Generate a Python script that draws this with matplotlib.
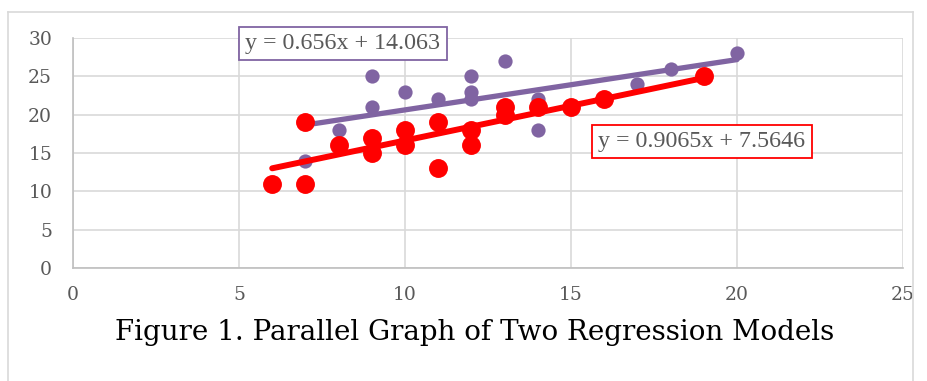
import numpy as np
import matplotlib.pyplot as plt
from matplotlib.lines import Line2D

# model 1 (purple) and model 2 (red) observations
x1 = [7, 8, 9, 9, 10, 11, 12, 12, 12, 13, 14, 14, 17, 18, 20]
y1 = [14, 18, 25, 21, 23, 22, 25, 23, 22, 27, 22, 18, 24, 26, 28]
x2 = [6, 7, 7, 8, 9, 9, 10, 10, 11, 11, 12, 12, 13, 13, 14, 15, 16, 19]
y2 = [11, 11, 19, 16, 17, 15, 18, 16, 19, 13, 18, 16, 21, 20, 21, 21, 22, 25]

# trend line coefficients shown on the chart
slope1, icept1 = 0.656, 14.063
slope2, icept2 = 0.9065, 7.5646

eq1 = 'y = 0.656x + 14.063'
eq2 = 'y = 0.9065x + 7.5646'
caption = 'Figure 1. Parallel Graph of Two Regression Models'

purple = '#8064A2'
red = '#FF0000'
grey_txt = '#595959'

fig = plt.figure(figsize=(9.28, 3.81), dpi=100)
ax = fig.add_axes([73/928, 1 - 268/381, (903 - 73)/928, (268 - 38)/381])

ax.scatter(x1, y1, s=105, color=purple, zorder=3, linewidths=0)
ax.scatter(x2, y2, s=185, color=red, zorder=4, linewidths=0)

lx1 = np.array([min(x1), max(x1)])
lx2 = np.array([min(x2), max(x2)])
ax.plot(lx1, slope1 * lx1 + icept1, color=purple, lw=3.8, solid_capstyle='round', zorder=3.5)
ax.plot(lx2, slope2 * lx2 + icept2, color=red, lw=4.3, solid_capstyle='round', zorder=4.5)

ax.set_xlim(0, 25)
ax.set_ylim(0, 30)
ax.set_xticks(range(0, 26, 5))
ax.set_yticks(range(0, 31, 5))
ax.grid(True, color='#D9D9D9', lw=1.2)
ax.set_axisbelow(True)
for s in ['top', 'right']:
    ax.spines[s].set_visible(False)
for s in ['left', 'bottom']:
    ax.spines[s].set_color('#BFBFBF')
    ax.spines[s].set_linewidth(1.2)
ax.tick_params(length=0, colors=grey_txt, labelsize=13.5)
ax.tick_params(axis='y', pad=15)
ax.tick_params(axis='x', pad=13)
for lab in ax.get_xticklabels() + ax.get_yticklabels():
    lab.set_family('DejaVu Serif')

fig.text(343/928, 1 - 43.5/381, eq1, ha='center', va='center', color=grey_txt,
         fontsize=17.3, family='Liberation Serif',
         bbox=dict(boxstyle='square,pad=0.25', fc='white', ec=purple, lw=1.3))
fig.text(702/928, 1 - 141.5/381, eq2, ha='center', va='center', color=grey_txt,
         fontsize=17.3, family='Liberation Serif',
         bbox=dict(boxstyle='square,pad=0.25', fc='white', ec=red, lw=1.3))

fig.text(475/928, 1 - 333/381, caption, ha='center', va='center', color='black',
         fontsize=20, family='DejaVu Serif')

# chart frame
frame = dict(color='#D9D9D9', lw=1.2, transform=fig.transFigure)
fig.add_artist(Line2D([8/928, 8/928], [0, 1 - 12/381], **frame))
fig.add_artist(Line2D([8/928, 913/928], [1 - 12/381, 1 - 12/381], **frame))
fig.add_artist(Line2D([913/928, 913/928], [0, 1 - 12/381], **frame))

fig.savefig('out.png', dpi=100)
